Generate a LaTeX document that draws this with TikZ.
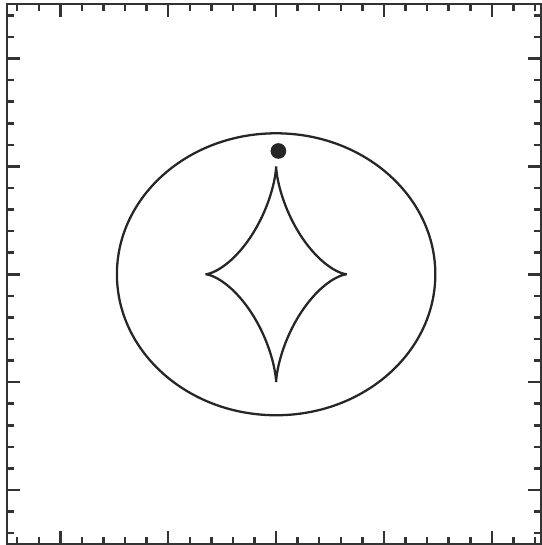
\documentclass[tikz,border=0pt]{standalone}
\begin{document}
\begin{tikzpicture}[x=1cm,y=1cm,
  ink/.style={draw=black!80, line width=0.65pt},
  curve/.style={draw=black!85, line width=0.6pt},
  srcdot/.style={circle, fill=black!85, inner sep=0pt, minimum size=0.145cm}]
\useasboundingbox (-0.56,-0.51) rectangle (4.457,4.543);
\draw[ink] (-0.497,-0.5) rectangle (4.455,4.507);
\foreach \i in {-2,...,22} {
  \pgfmathsetmacro\t{0.2*\i}
  \pgfmathsetmacro\L{ifthenelse(mod(\i,5)==0,0.123,0.065)}
  \draw[ink] (\t,-0.5) -- ++(0,\L);
  \draw[ink] (\t,4.507) -- ++(0,-\L);
  \draw[ink] (-0.497,\t) -- ++(\L,0);
  \draw[ink] (4.455,\t) -- ++(-\L,0);
}
\draw[curve] (2,2) ellipse [x radius=1.476, y radius=1.307];
\draw[curve] plot[domain=0:360, samples=361] ({2+0.655*cos(\x)*cos(\x)*cos(\x)},{2+1.0*sin(\x)*sin(\x)*sin(\x)}) -- cycle;
\node[srcdot] (src) at (2.021,3.143) {};
\end{tikzpicture}
\end{document}
